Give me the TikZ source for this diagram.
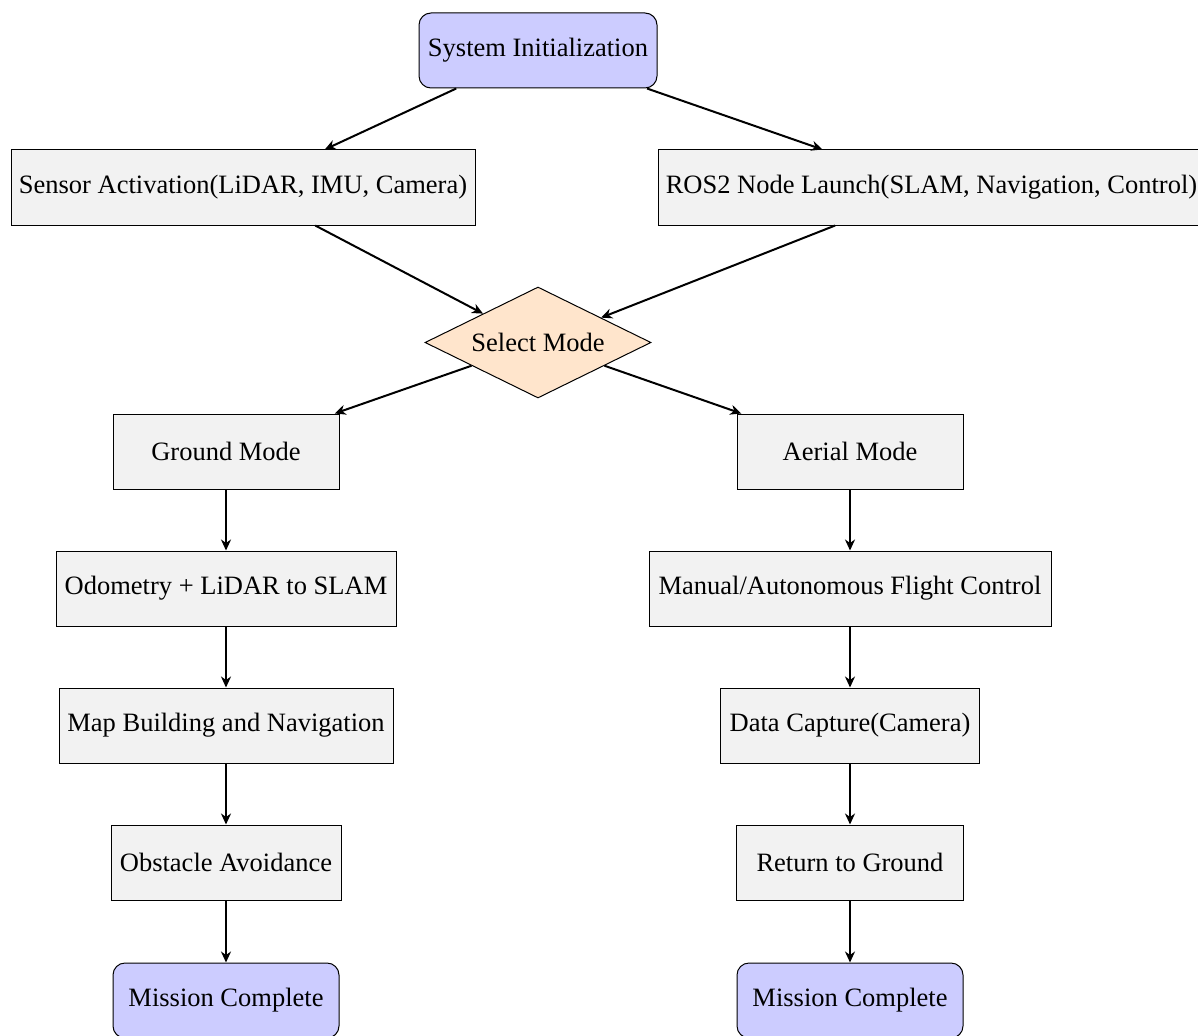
\documentclass[tikz,border=0pt]{standalone}
\usepackage{fontspec}
\setmainfont{Liberation Serif}
\usetikzlibrary{shapes.geometric,arrows.meta}
\tikzset{
  base/.style={draw=black, line width=1pt, minimum height=75pt, inner xsep=3pt, inner ysep=4pt,
    font=\fontsize{26.5}{32}\selectfont, anchor=center},
  procbox/.style={base, fill=gray!10},
  termbox/.style={base, fill=blue!20, rounded corners=12pt},
  decbox/.style={draw=black, line width=1pt, fill=orange!20, diamond, aspect=2, inner sep=0pt,
    minimum width=226pt, minimum height=111pt, font=\fontsize{26.5}{32}\selectfont},
  arr/.style={-{Stealth[length=11pt, width=10pt, inset=3.5pt]}, line width=2pt}
}
\begin{document}
\begin{tikzpicture}[x=1pt, y=-1pt]
\useasboundingbox (0,0) rectangle (1198,1035);
\node[termbox, minimum width=238pt] (init) at (538,50.5) {System Initialization};
\node[procbox, minimum width=464pt] (sensor) at (243,187.5) {Sensor Activation(LiDAR, IMU, Camera)};
\node[procbox, minimum width=547pt] (ros) at (931.5,187.5) {ROS2 Node Launch(SLAM, Navigation, Control)};
\node[decbox] (sel) at (538,342.5) {Select Mode};
\node[procbox, minimum width=226pt] (ground) at (226,451.5) {Ground Mode};
\node[procbox, minimum width=226pt] (aerial) at (850,451.5) {Aerial Mode};
\node[procbox, minimum width=340pt] (odo) at (226,588.5) {Odometry + LiDAR to SLAM};
\node[procbox, minimum width=402pt] (manual) at (850,588.5) {Manual/Autonomous Flight Control};
\node[procbox, minimum width=259pt] (data) at (850,725.5) {Data Capture(Camera)};
\node[procbox, minimum width=230pt] (obs) at (226,862.5) {Obstacle Avoidance};
\node[procbox, minimum width=227pt] (ret) at (850,862.5) {Return to Ground};
\node[procbox, minimum width=334pt] (map) at (226,725.5) {Map Building and Navigation};
\node[termbox, minimum width=226pt] (mc1) at (226,1000.5) {Mission Complete};
\node[termbox, minimum width=226pt] (mc2) at (850,1000.5) {Mission Complete};
\draw[arr] (init) -- (sensor);
\draw[arr] (init) -- (ros);
\draw[arr] (sensor) -- (sel);
\draw[arr] (ros) -- (sel);
\draw[arr] (sel) -- (ground);
\draw[arr] (sel) -- (aerial);
\draw[arr] (ground) -- (odo);
\draw[arr] (odo) -- (map);
\draw[arr] (map) -- (obs);
\draw[arr] (obs) -- (mc1);
\draw[arr] (aerial) -- (manual);
\draw[arr] (manual) -- (data);
\draw[arr] (data) -- (ret);
\draw[arr] (ret) -- (mc2);
\end{tikzpicture}
\end{document}
